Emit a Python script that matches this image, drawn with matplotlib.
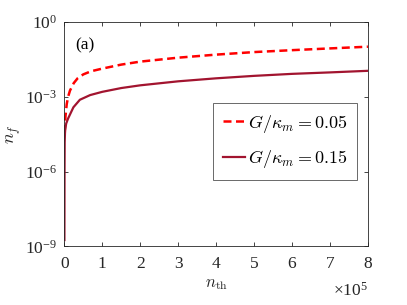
import numpy as np
import matplotlib
matplotlib.use("Agg")
import matplotlib.pyplot as plt
from matplotlib.ticker import FixedLocator, NullLocator

plt.rcParams["font.family"] = ["Liberation Serif", "DejaVu Serif"]
plt.rcParams["mathtext.fontset"] = "custom"
plt.rcParams["mathtext.rm"] = "Liberation Serif"
plt.rcParams["mathtext.it"] = "Liberation Serif:italic"

# n_th in units of 1e5, n_f
nth_a = [0.012, 0.03, 0.063, 0.1, 0.15, 0.25, 0.35, 0.5, 0.7, 1.0, 1.5, 2.0,
         3.0, 4.0, 5.0, 6.0, 7.0, 8.0]
nf_a = [3.5e-5, 1.6e-4, 5.0e-4, 1.0e-3, 1.78e-3, 3.55e-3, 5.5e-3, 7.9e-3,
        1.05e-2, 1.35e-2, 1.95e-2, 2.57e-2, 3.7e-2, 4.9e-2, 6.2e-2, 7.4e-2,
        8.7e-2, 1.02e-1]

nth_b = [0.003, 0.006, 0.01, 0.02, 0.05, 0.1, 0.24, 0.41, 0.68, 1.0, 1.5, 2.0,
         3.0, 4.0, 5.0, 6.0, 7.0, 8.0]
nf_b = [1.8e-9, 1.0e-6, 1.5e-5, 4.5e-5, 8.5e-5, 1.35e-4, 3.8e-4, 7.6e-4,
        1.17e-3, 1.58e-3, 2.24e-3, 2.88e-3, 4.17e-3, 5.5e-3, 6.9e-3, 8.3e-3,
        9.5e-3, 1.1e-2]

labels = [r"$G/\kappa_m = 0.05$", r"$G/\kappa_m = 0.15$"]
xticks = [0, 1, 2, 3, 4, 5, 6, 7, 8]
yticks = [1e-9, 1e-6, 1e-3, 1e0]

fig = plt.figure(figsize=(4.07, 3.05), dpi=100)
ax = fig.add_axes([0.158, 0.192, 0.746, 0.736])

ax.plot(nth_a, nf_a, color="#FF0000", lw=1.8, dashes=(3.2, 1.8), label=labels[0])
ax.plot(nth_b, nf_b, color="#A2142F", lw=1.6, label=labels[1])

ax.set_yscale("log")
ax.set_xlim(0, 8)
ax.set_ylim(1e-9, 1e0)
ax.xaxis.set_major_locator(FixedLocator(xticks))
ax.yaxis.set_major_locator(FixedLocator(yticks))
ax.yaxis.set_minor_locator(NullLocator())
ax.set_yticklabels([r"$10^{%d}$" % int(np.log10(v)) for v in yticks])

ax.tick_params(direction="in", top=True, right=True, length=3, width=0.6,
               colors="#262626", labelsize=12.5)
ax.tick_params(axis="x", pad=7)
ax.tick_params(axis="y", pad=5)
for s in ax.spines.values():
    s.set_color("#262626")
    s.set_linewidth(0.6)

ax.set_xlabel(r"$n_{\rm th}$", fontsize=12, math_fontfamily="cm", color="#262626",
              labelpad=3)
ax.set_ylabel(r"$n_f$", fontsize=13, math_fontfamily="cm", color="#262626", labelpad=2)
ax.text(1.0, -0.238, r"$\times10^{5}$", transform=ax.transAxes, ha="right",
        va="bottom", fontsize=12.5, color="#262626")
ax.text(0.035, 0.93, "(a)", transform=ax.transAxes, ha="left", va="top",
        fontsize=12.5, color="black")

leg = ax.legend(loc="upper right", bbox_to_anchor=(0.965, 0.64), fontsize=13,
                frameon=True, fancybox=False, handlelength=1.25, handletextpad=0.15,
                borderpad=0.55, labelspacing=0.75, borderaxespad=0)
leg.get_frame().set_edgecolor("#262626")
leg.get_frame().set_linewidth(0.6)
for t in leg.get_texts():
    t.set_math_fontfamily("cm")

fig.savefig("out.png", dpi=100)
